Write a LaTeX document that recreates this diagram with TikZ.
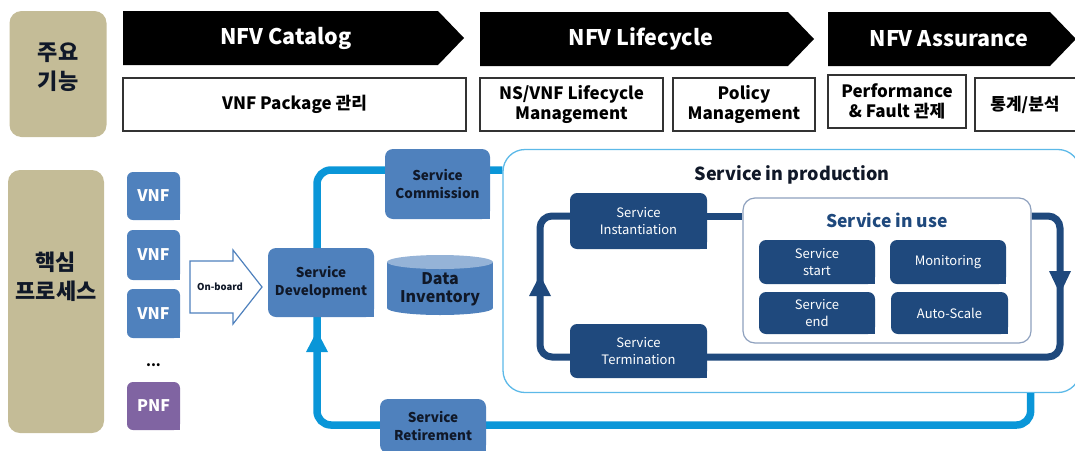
\documentclass[tikz,border=0pt]{standalone}
\usepackage{fontspec}
\setmainfont{Noto Sans CJK KR}
\usetikzlibrary{arrows.meta}

\definecolor{tanc}{HTML}{C4BC97}
\definecolor{boxblue}{HTML}{4F81BD}
\definecolor{pnfpurple}{HTML}{8064A2}
\definecolor{navy}{HTML}{1F497D}
\definecolor{loopblue}{HTML}{0A96D8}
\definecolor{prodline}{HTML}{5CB9E8}
\definecolor{useline}{HTML}{8EA1BE}
\definecolor{cyltop}{HTML}{95B3D7}
\definecolor{darktext}{HTML}{101828}

\pgfdeclarelayer{back}
\pgfdeclarelayer{lines}
\pgfsetlayers{back,lines,main}

% square off the lower right corner of a tab-shaped box
\newcommand{\tabcorner}[2]{\fill[#2] ([xshift=-9pt,yshift=9pt]#1.south east) rectangle (#1.south east);}

\begin{document}
\begin{tikzpicture}[x=1pt,y=-1pt,
  banner/.style={fill=black},
  bantext/.style={text=white,inner sep=0pt,font=\fontsize{21.5}{24}\selectfont\bfseries},
  wbox/.style={draw=black!80,line width=1.1pt,fill=white,inner sep=0pt,align=center,
    font=\fontsize{17}{20.5}\selectfont\bfseries},
  wtext/.style={inner sep=0pt,align=center,font=\fontsize{17}{20.5}\selectfont\bfseries},
  side/.style={fill=tanc,rounded corners=12pt,inner sep=0pt},
  sidetext/.style={inner sep=0pt,align=center,text=darktext,font=\fontsize{22}{28.5}\selectfont\bfseries},
  nf/.style={fill=boxblue,rounded corners=6pt,inner sep=0pt,text=white,minimum width=53pt,
    font=\fontsize{16}{18}\selectfont\bfseries},
  bbox/.style={fill=boxblue,rounded corners=8pt,inner sep=0pt,align=center,text=darktext,
    font=\fontsize{13.5}{17.5}\selectfont\bfseries},
  nbox/.style={fill=navy,rounded corners=7pt,inner sep=0pt,align=center,text=white,
    font=\fontsize{13}{17.5}\selectfont},
  loopl/.style={draw=loopblue,line width=7.5pt},
  navyl/.style={draw=navy,line width=7pt}]

\useasboundingbox (0,0) rectangle (1075,450);
\clip (0,0) rectangle (1075,450);

% ---------- row labels ----------
\node[side, minimum width=97pt, minimum height=126pt] (func) at (58,74) {};
\node[sidetext] (functext) at (58,67) {주요\\기능};
\node[side, minimum width=96pt, minimum height=263pt] (proc) at (56,301.5) {};
\node[sidetext] (proctext) at (56,277) {핵심\\프로세스};

% ---------- function banners ----------
\fill[banner] (123,11) -- (438,11) -- (464,38) -- (438,65) -- (123,65) -- cycle;
\node[bantext] (catalog) at (286,38) {NFV Catalog};
\fill[banner] (480,12) -- (788,12) -- (814,39) -- (788,66) -- (480,66) -- cycle;
\node[bantext] (lifecycle) at (641,39) {NFV Lifecycle};
\fill[banner] (828,12) -- (1050,12) -- (1076,39) -- (1050,66) -- (828,66) -- cycle;
\node[bantext] (assurance) at (949,39) {NFV Assurance};

\node[wbox, minimum width=343pt, minimum height=53pt] (pkg) at (294.5,104.5) {VNF Package 관리};
\node[wbox, minimum width=183pt, minimum height=53pt] (nsvnf) at (571.5,104.5) {NS/VNF Lifecycle\\Management};
\node[wbox, minimum width=142pt, minimum height=53pt] (policy) at (744,104.5) {Policy\\Management};
\node[wbox, minimum width=138pt, minimum height=53pt] (perf) at (897,101.5) {Performance\\\& Fault 관제};
\node[wbox, minimum width=120pt, minimum height=53pt] (stat) at (1035,104.5) {};
\node[wtext] (stattext) at (1025,104.5) {통계/분석};

% ---------- network functions ----------
\node[nf, minimum height=48pt] (vnf1) at (153.5,196) {VNF};
\node[nf, minimum height=50pt] (vnf2) at (153.5,255) {VNF};
\node[nf, minimum height=49pt] (vnf3) at (153.5,313.5) {VNF};
\node[inner sep=0pt, font=\fontsize{14}{15}\selectfont\bfseries] (dots) at (153.5,365) {...};
\node[nf, fill=pnfpurple, minimum height=48pt] (pnf) at (153.5,406) {PNF};
\foreach \n in {vnf1,vnf2,vnf3}{\tabcorner{\n}{boxblue}}
\tabcorner{pnf}{pnfpurple}

% on-board block arrow
\filldraw[draw=boxblue, line width=1.2pt, fill=white]
  (190,261) -- (233,261) -- (233,250) -- (262,287) -- (233,324) -- (233,313) -- (190,313) -- cycle;
\node[inner sep=0pt, font=\fontsize{9.5}{11}\selectfont\bfseries, text=darktext] (onboard) at (220,287) {On-board};

% ---------- service in production frame ----------
\begin{pgfonlayer}{back}
\node[draw=prodline, line width=1.3pt, fill=white, rounded corners=22pt,
  minimum width=577pt, minimum height=243pt, inner sep=0pt] (prod) at (791.5,271) {};
\end{pgfonlayer}
\node[inner sep=0pt, font=\fontsize{18}{20}\selectfont\bfseries, text=darktext] (prodtitle) at (792,175) {Service in production};

% ---------- service stages ----------
\node[bbox, minimum width=106pt, minimum height=69pt] (dev) at (321,282.5) {Service\\Development};
\node[bbox, minimum width=105pt, minimum height=70pt] (comm) at (437.5,184) {Service\\Commission};
\node[bbox, minimum width=106pt, minimum height=54pt] (retire) at (433,426) {Service\\Retirement};
\foreach \n in {dev,comm,retire}{\tabcorner{\n}{boxblue}}

% data inventory cylinder
\fill[boxblue] (387,262) rectangle (493,308);
\fill[boxblue] (440,308) ellipse [x radius=53, y radius=7];
\fill[cyltop] (440,262) ellipse [x radius=53, y radius=7];
\node[inner sep=0pt, align=center, text=darktext, font=\fontsize{16}{18}\selectfont\bfseries] (inventory) at (440,289) {Data\\Inventory};

% ---------- lifecycle stages ----------
\node[nbox, minimum width=137pt, minimum height=56pt] (inst) at (638.5,221) {Service\\Instantiation};
\node[nbox, minimum width=137pt, minimum height=54pt] (term) at (638.5,351) {Service\\Termination};
\tabcorner{inst}{navy}
\tabcorner{term}{navy}

\node[draw=useline, line width=1.2pt, fill=white, rounded corners=12pt,
  minimum width=288pt, minimum height=145pt, inner sep=0pt] (use) at (887,270.5) {};
\node[inner sep=0pt, font=\fontsize{17.5}{19}\selectfont\bfseries, text=navy] (usetitle) at (887,220) {Service in use};
\node[nbox, minimum width=116pt, minimum height=44pt] (sstart) at (817,262) {Service\\start};
\node[nbox, minimum width=116pt, minimum height=44pt] (mon) at (948,262) {Monitoring};
\node[nbox, minimum width=116pt, minimum height=42pt] (send) at (817,313) {Service\\end};
\node[nbox, minimum width=117pt, minimum height=42pt] (auto) at (949.5,313) {Auto-Scale};
\foreach \n in {sstart,mon,send,auto}{\tabcorner{\n}{navy}}

% ---------- loops, kept beneath the boxes ----------
\begin{pgfonlayer}{lines}
% outer service loop
\draw[loopl, rounded corners=14pt] ([xshift=-4pt]dev.north) |- (prod.west |- 0,170);
\draw[loopl, rounded corners=14pt] ([xshift=-50pt]prod.south east) |- (317,425) -- ([xshift=-4pt]dev.south);
\fill[loopblue] (306,352) -- (328,352) -- (317,331) -- cycle;
% inner lifecycle loop
\draw[navyl, rounded corners=12pt] (inst.west |- 0,216) -| (540,357) -- (term.west |- 0,357);
\draw[navyl] (inst.east |- 0,216) -- (use.west |- 0,216);
\draw[navyl, rounded corners=12pt] (use.east |- 0,216) -| (1060,357) -- (term.east |- 0,357);
\fill[navy] (529,296) -- (551,296) -- (540,275) -- cycle;
\fill[navy] (1049,271) -- (1071,271) -- (1060,294) -- cycle;
\end{pgfonlayer}

\end{tikzpicture}
\end{document}
